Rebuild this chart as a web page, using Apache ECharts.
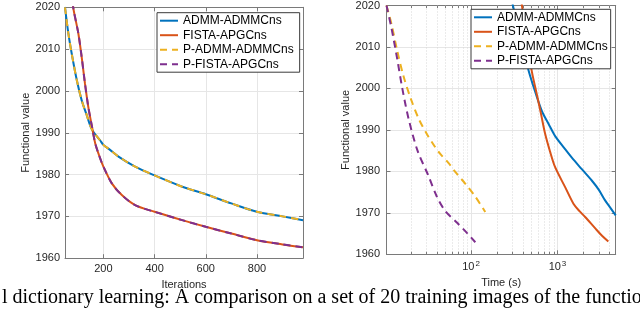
<!DOCTYPE html>
<html>
<head>
<meta charset="utf-8">
<script src="https://cdn.jsdelivr.net/npm/echarts@6/dist/echarts.min.js"></script>
<style>html,body{margin:0;padding:0;background:#fff}#c{width:640px;height:309px}</style>
</head>
<body>
<div id="c"></div>
<script>
// ---------- data ----------
const seriesNames = ['ADMM-ADMMCns', 'FISTA-APGCns', 'P-ADMM-ADMMCns', 'P-FISTA-APGCns'];

// left panel: functional value vs iterations
const leftAdmmIter = [50, 63, 76, 96, 115, 135, 155, 187, 200, 226, 259, 324, 400, 508, 600, 700, 800, 900, 980];
const leftAdmmVal  = [2020, 2013.8, 2009, 2002.6, 1997.8, 1994.2, 1990.8, 1988.2, 1987.1, 1985.9, 1984.3, 1981.9, 1979.8, 1977.1, 1975.3, 1973.1, 1971.1, 1970.0, 1969.1];
const leftFistaIter = [76, 82, 102, 115, 128, 141, 155, 168, 182, 200, 233, 272, 324, 400, 508, 600, 700, 800, 900, 980];
const leftFistaVal  = [2024, 2020, 2013.8, 2008.2, 2001.8, 1996.2, 1991.6, 1987.5, 1984.8, 1981.9, 1977.9, 1975.1, 1972.7, 1971.1, 1969.1, 1967.5, 1965.9, 1964.3, 1963.3, 1962.6];
// parallel versions: same iterates
const leftPAdmmIter = leftAdmmIter, leftPAdmmVal = leftAdmmVal;
const leftPFistaIter = leftFistaIter, leftPFistaVal = leftFistaVal;

// right panel: functional value vs time (s), log x
const rightAdmmTime = [290, 305, 380, 462, 552, 661, 800, 940, 1200, 1466, 1900, 2494, 3000, 3558, 4100, 4720];
const rightAdmmVal  = [2023, 2020, 2011.7, 2004.4, 1999.2, 1994.5, 1991.2, 1988.5, 1985.6, 1983.3, 1980.6, 1977.8, 1975.6, 1973.0, 1971.2, 1969.4];
const rightFistaTime = [370, 388, 450, 506, 578, 650, 721, 820, 940, 1227, 1531, 1800, 2090, 2724, 3300, 3880];
const rightFistaVal  = [2023, 2020, 2010.5, 2004.0, 1998.5, 1993.5, 1989.0, 1984.8, 1981.0, 1976.2, 1972.2, 1970.4, 1969.0, 1966.3, 1964.4, 1963.1];
const rightPAdmmTime = [10.5, 12, 14, 16.5, 20, 25, 31, 38, 44, 55, 66, 86, 112, 146];
const rightPAdmmVal  = [2020, 2015.5, 2009, 2003, 1997.6, 1992.5, 1988.9, 1986, 1984.2, 1982, 1979.8, 1977, 1973.9, 1970.2];
const rightPFistaTime = [10.5, 12, 14, 16, 19, 24, 32, 40, 50, 69, 90, 112];
const rightPFistaVal  = [2020, 2014.5, 2007, 2000, 1992.5, 1985, 1979, 1974, 1970.5, 1967.6, 1965.1, 1962.9];

// axes
const yMin = 1960, yMax = 2020, yStep = 10;
const iterMin = 50, iterMax = 980;
const timeMin = 10.5, timeMax = 4720;
const logMinorTicks = [20, 30, 40, 50, 60, 70, 80, 90, 200, 300, 400, 500, 600, 700, 800, 900, 2000, 3000, 4000];

const caption = 'l dictionary learning: A comparison on a set of 20 training images of the function';
// ---------- end data ----------

const colors = ['#0072BD', '#D95319', '#EDB120', '#7E2F8E'];
const FONT = '"Liberation Sans", Arial, Helvetica, sans-serif';
const TXT = '#262626';
const AX = '#7a7a7a';
const GRID = '#e6e6e6';

function pairs(xs, ys) { return xs.map((x, i) => [x, ys[i]]); }

function lineSeries(name, idx, xi, yi, xs, ys, dashed) {
  return {
    type: 'line', name: name, xAxisIndex: xi, yAxisIndex: yi,
    data: pairs(xs, ys), showSymbol: false, symbol: 'none', smooth: 0.3,
    clip: true, z: dashed ? 4 : 3,
    lineStyle: { color: colors[idx], width: 2, type: dashed ? [7, 5] : 'solid', cap: 'butt' },
    itemStyle: { color: colors[idx] },
    emphasis: { disabled: true }
  };
}

function valueXAxis(grid, pos, showLabels) {
  return {
    type: 'value', gridIndex: grid, position: pos, min: iterMin, max: iterMax, splitNumber: 5,
    axisLine: { show: true, onZero: false, lineStyle: { color: AX, width: 1 } },
    axisTick: { show: true, inside: true, length: 4, lineStyle: { color: AX } },
    axisLabel: { show: showLabels, showMinLabel: false, showMaxLabel: false, color: TXT, fontSize: 11, fontFamily: FONT, margin: 5,
      formatter: v => String(v) },
    splitLine: { show: showLabels, lineStyle: { color: GRID, width: 1 } },
    name: showLabels ? 'Iterations' : '', nameLocation: 'middle', nameGap: 15,
    nameTextStyle: { color: TXT, fontSize: 11, fontFamily: FONT }
  };
}

function logXAxis(grid, pos, showLabels) {
  return {
    type: 'log', logBase: 10, gridIndex: grid, position: pos, min: timeMin, max: timeMax,
    axisLine: { show: true, onZero: false, lineStyle: { color: AX, width: 1 } },
    axisTick: { show: true, inside: true, length: 4, lineStyle: { color: AX } },
    axisLabel: {
      show: showLabels, showMinLabel: false, showMaxLabel: false, margin: 5,
      formatter: function (v) {
        const l = Math.log10(v), e = Math.round(l);
        if (Math.abs(l - e) > 1e-6) return '';
        return '{b|10}{s|' + e + '}';
      },
      rich: {
        b: { fontSize: 11, fontFamily: FONT, color: TXT },
        s: { fontSize: 8, fontFamily: FONT, color: TXT, padding: [0, 0, 7, 1] }
      }
    },
    splitLine: { show: showLabels, lineStyle: { color: GRID, width: 1 } },
    name: showLabels ? 'Time (s)' : '', nameLocation: 'middle', nameGap: 17,
    nameTextStyle: { color: TXT, fontSize: 11, fontFamily: FONT }
  };
}

function yAxis(grid, pos, showLabels, margin, gap) {
  return {
    type: 'value', gridIndex: grid, position: pos, min: yMin, max: yMax, interval: yStep,
    axisLine: { show: true, onZero: false, lineStyle: { color: AX, width: 1 } },
    axisTick: { show: true, inside: true, length: 4, lineStyle: { color: AX } },
    axisLabel: { show: showLabels, color: TXT, fontSize: 11, fontFamily: FONT, margin: margin,
      formatter: v => String(v) },
    splitLine: { show: showLabels, lineStyle: { color: GRID, width: 1 } },
    name: showLabels ? 'Functional value' : '', nameLocation: 'middle', nameGap: gap,
    nameTextStyle: { color: TXT, fontSize: 11, fontFamily: FONT }
  };
}

function legend(left, top, pad) {
  return {
    data: seriesNames, orient: 'vertical', left: left, top: top,
    itemWidth: 18, itemHeight: 12, itemGap: 2.5,
    padding: pad,
    backgroundColor: '#ffffff', borderColor: '#3a3a3a', borderWidth: 1, borderRadius: 0,
    itemStyle: { opacity: 0 },
    lineStyle: { width: 2 },
    textStyle: { color: '#000', fontSize: 12, fontFamily: FONT },
    selectedMode: false
  };
}

const minorGrid = {
  type: 'custom', xAxisIndex: 2, yAxisIndex: 2, silent: true, z: 1,
  data: logMinorTicks.map(v => [v, yMin]),
  renderItem: function (params, api) {
    const pb = api.coord([api.value(0), yMin]);
    const pt = api.coord([api.value(0), yMax]);
    const x = Math.round(pb[0]) + 0.5;
    return {
      type: 'group', children: [
        { type: 'line', shape: { x1: x, y1: pt[1], x2: x, y2: pb[1] }, style: { stroke: '#d6d6d6', lineWidth: 1, lineDash: [1, 2] } },
        { type: 'line', shape: { x1: x, y1: pb[1], x2: x, y2: pb[1] - 2.5 }, style: { stroke: AX, lineWidth: 1 } },
        { type: 'line', shape: { x1: x, y1: pt[1], x2: x, y2: pt[1] + 2.5 }, style: { stroke: AX, lineWidth: 1 } }
      ]
    };
  }
};

const option = {
  animation: false,
  backgroundColor: '#ffffff',
  grid: [
    { left: 65, top: 7.3, width: 238, height: 250.9 },
    { left: 386.5, top: 3.5, width: 229.2, height: 250.8 }
  ],
  xAxis: [
    valueXAxis(0, 'bottom', true), valueXAxis(0, 'top', false),
    logXAxis(1, 'bottom', true), logXAxis(1, 'top', false)
  ],
  yAxis: [
    yAxis(0, 'left', true, 5, 27), yAxis(0, 'right', false, 5, 27),
    yAxis(1, 'left', true, 6.5, 22), yAxis(1, 'right', false, 6.5, 22)
  ],
  legend: [legend(157, 12.7, [2, 6, 2, 2]), legend(471, 9.3, [2, 3, 2, 2])],
  series: [
    lineSeries(seriesNames[0], 0, 0, 0, leftAdmmIter, leftAdmmVal, false),
    lineSeries(seriesNames[1], 1, 0, 0, leftFistaIter, leftFistaVal, false),
    lineSeries(seriesNames[2], 2, 0, 0, leftPAdmmIter, leftPAdmmVal, true),
    lineSeries(seriesNames[3], 3, 0, 0, leftPFistaIter, leftPFistaVal, true),
    minorGrid,
    lineSeries(seriesNames[0], 0, 2, 2, rightAdmmTime, rightAdmmVal, false),
    lineSeries(seriesNames[1], 1, 2, 2, rightFistaTime, rightFistaVal, false),
    lineSeries(seriesNames[2], 2, 2, 2, rightPAdmmTime, rightPAdmmVal, true),
    lineSeries(seriesNames[3], 3, 2, 2, rightPFistaTime, rightPFistaVal, true)
  ],
  graphic: [
    { type: 'text', left: 2, top: 288, silent: true,
      style: { text: caption, font: '20px "Liberation Serif", "Times New Roman", serif', fill: '#000' } }
  ]
};

const chart = echarts.init(document.getElementById('c'), null, { renderer: 'canvas' });
chart.setOption(option);
</script>
</body>
</html>
